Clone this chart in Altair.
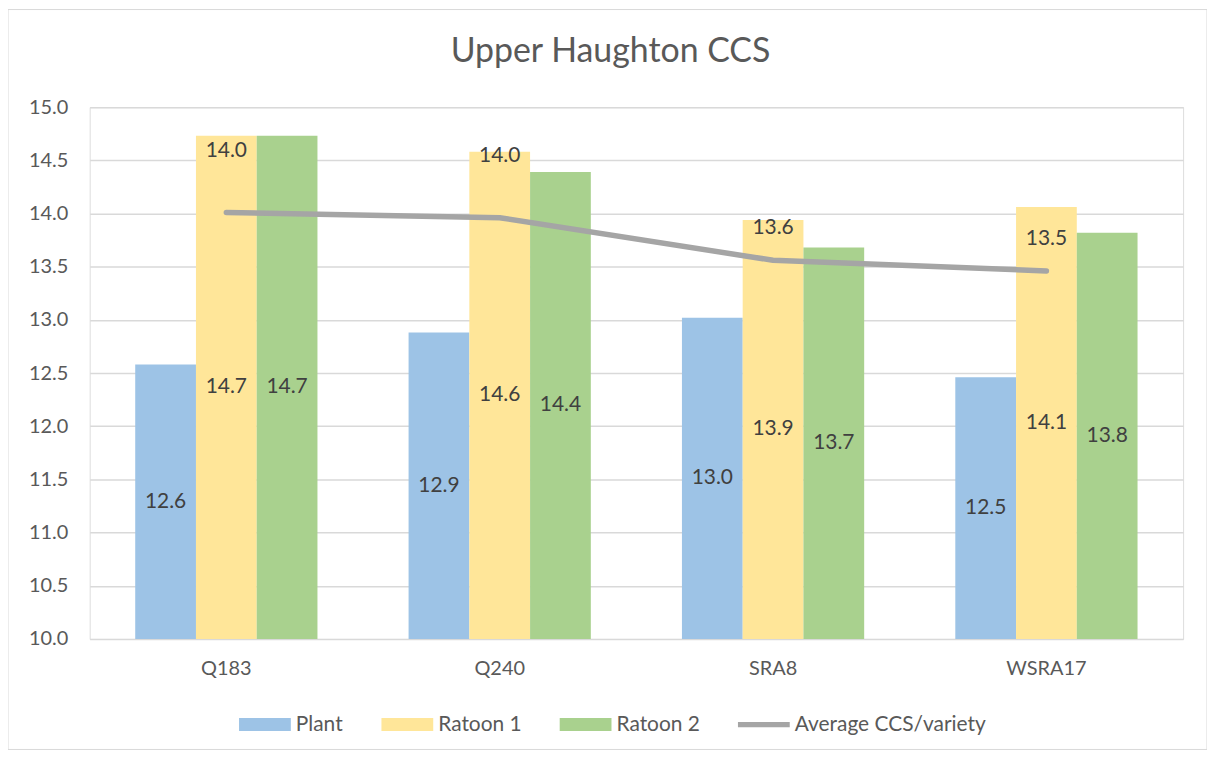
import altair as alt
import pandas as pd

FONT = "Lato"

categories = ["Q183", "Q240", "SRA8", "WSRA17"]
plant = [12.58, 12.88, 13.02, 12.46]
ratoon1 = [14.73, 14.58, 13.94, 14.06]
ratoon2 = [14.73, 14.39, 13.68, 13.82]
average = [14.01, 13.96, 13.56, 13.46]

bar_series = ["Plant", "Ratoon 1", "Ratoon 2"]
line_series = "Average CCS/variety"
series_names = bar_series + [line_series]
series_colors = ["#9DC3E6", "#FFE699", "#A9D18E", "#A5A5A5"]
y_ticks = [10.0, 10.5, 11.0, 11.5, 12.0, 12.5, 13.0, 13.5, 14.0, 14.5, 15.0]
chart_title = "Upper Haughton CCS"

rows = []
for name, vals in zip(bar_series, [plant, ratoon1, ratoon2]):
    for c, v in zip(categories, vals):
        rows.append({"variety": c, "series": name, "value": v})
bars_df = pd.DataFrame(rows)
avg_df = pd.DataFrame({"variety": categories, "value": average})
legend_df = pd.DataFrame({"series": series_names})

W, H = 1098, 534

x_enc = alt.X(
    "variety:N",
    sort=categories,
    scale=alt.Scale(domain=categories, paddingInner=1 / 3, paddingOuter=1 / 6),
    axis=alt.Axis(title=None, labelAngle=0, ticks=False, domain=False, grid=False,
                  labelPadding=20, labelFontSize=20, labelColor="#595959", labelFont=FONT),
)
y_scale = alt.Scale(domain=[10, 15], zero=False, nice=False)
y_enc = alt.Y(
    "value:Q",
    scale=y_scale,
    axis=alt.Axis(title=None, values=y_ticks, format=".1f", ticks=False, domain=False,
                  gridColor="#D9D9D9", gridWidth=1.5, labelPadding=22, labelFontSize=20,
                  labelColor="#595959", labelFont=FONT),
)
xoff = alt.XOffset("series:N", sort=bar_series,
                   scale=alt.Scale(domain=bar_series, paddingInner=0, paddingOuter=0))
color_scale = alt.Scale(domain=series_names, range=series_colors)

rect_path = "M-1,-0.25H1V0.25H-1Z"
line_path = "M-1,-0.1H1V0.1H-1Z"
leg = alt.Legend(title=None, orient="none", legendX=150, legendY=594, direction="horizontal",
                 symbolSize=2704, symbolOpacity=1, symbolStrokeWidth=0,
                 labelFontSize=21, labelFont=FONT, labelColor="#595959", labelLimit=400,
                 labelOffset=5, columnPadding=38, padding=0)

border = alt.Chart(alt.Data(values=[{"k": 1}])).mark_rect(
    fill="transparent", stroke="#D9D9D9", strokeWidth=1
).encode(x=alt.value(-82), x2=alt.value(W + 24), y=alt.value(-98), y2=alt.value(H + 111))

title_layer = alt.Chart(alt.Data(values=[{"t": chart_title}])).mark_text(
    fontSize=34, color="#595959", font=FONT, align="center", baseline="middle"
).encode(x=alt.value(W / 2 - 26), y=alt.value(-55), text="t:N")

bars = alt.Chart(bars_df).mark_bar().encode(
    x=x_enc, xOffset=xoff, y=y_enc, y2=alt.datum(10),
    color=alt.Color("series:N", scale=color_scale, sort=series_names, legend=leg),
)

bar_labels = alt.Chart(bars_df).transform_calculate(
    mid="(datum.value + 10) / 2"
).mark_text(fontSize=21, color="#404040", font=FONT).encode(
    x=x_enc, xOffset=xoff,
    y=alt.Y("mid:Q", scale=y_scale),
    text=alt.Text("value:Q", format=".1f"),
)

line = alt.Chart(avg_df).mark_line(
    color="#A5A5A5", strokeWidth=5.5, strokeCap="round", strokeJoin="round"
).encode(x=x_enc, y=alt.Y("value:Q", scale=y_scale))

avg_labels_hi = alt.Chart(avg_df).transform_filter(
    alt.FieldOneOfPredicate(field="variety", oneOf=["Q183", "Q240"])
).mark_text(fontSize=21, color="#404040", font=FONT, dy=-62).encode(
    x=x_enc, y=alt.Y("value:Q", scale=y_scale), text=alt.Text("value:Q", format=".1f"))

avg_labels_lo = alt.Chart(avg_df).transform_filter(
    alt.FieldOneOfPredicate(field="variety", oneOf=["SRA8", "WSRA17"])
).mark_text(fontSize=21, color="#404040", font=FONT, dy=-32).encode(
    x=x_enc, y=alt.Y("value:Q", scale=y_scale), text=alt.Text("value:Q", format=".1f"))

legend_layer = alt.Chart(legend_df).mark_point(filled=True, opacity=0).encode(
    color=alt.Color("series:N", scale=color_scale, sort=series_names, legend=leg),
    shape=alt.Shape("series:N", sort=series_names,
                    scale=alt.Scale(domain=series_names,
                                    range=[rect_path, rect_path, rect_path, line_path]),
                    legend=leg),
)

chart = alt.layer(
    border, title_layer, bars, bar_labels, line, avg_labels_hi, avg_labels_lo, legend_layer
).resolve_scale(color="shared").properties(
    width=W, height=H,
    autosize=alt.AutoSizeParams(type="none"),
    padding={"left": 82, "top": 98, "right": 24, "bottom": 112},
).configure_view(stroke=None).configure(background="white")

chart.save("out.html", embed_options={"renderer": "svg", "actions": False})
